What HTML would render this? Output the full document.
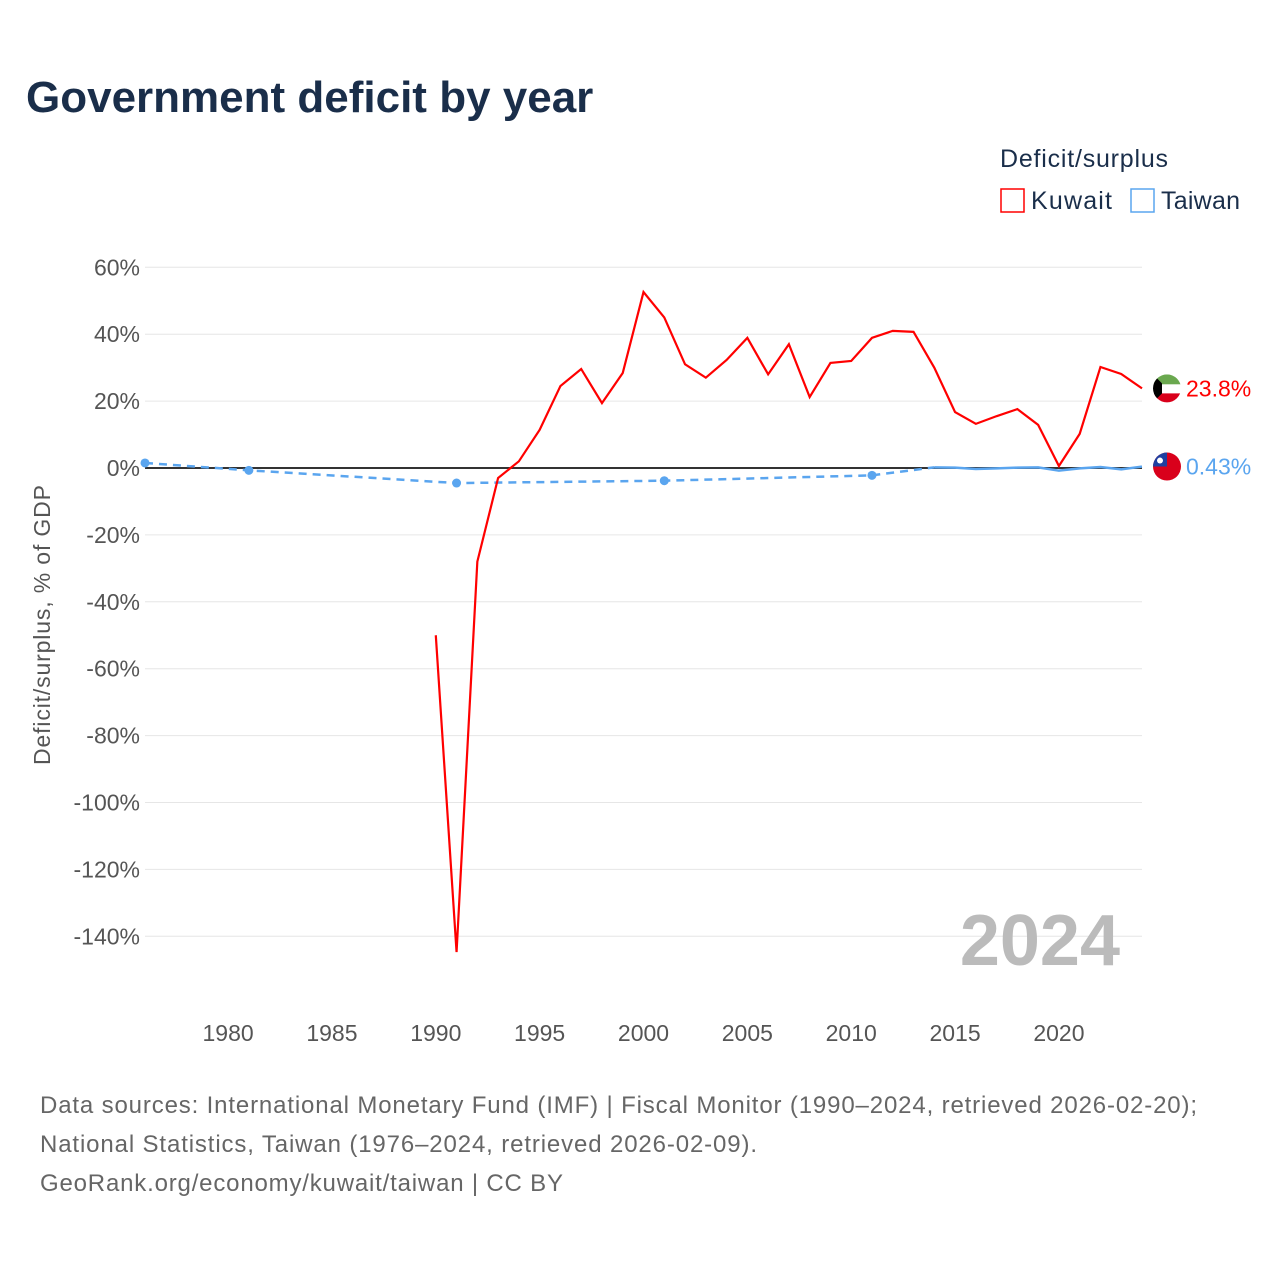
<!DOCTYPE html>
<html><head><meta charset="utf-8">
<style>
body{margin:0;background:#fff;font-family:"Liberation Sans",sans-serif;}
#wrap{position:relative;width:1280px;height:1280px;overflow:hidden;}
</style></head>
<body>
<div id="wrap">
<svg id="chart" width="1280" height="1280">
  <text x="26" y="112" font-size="44" font-weight="bold" fill="#1a2e4a">Government deficit by year</text>
  <text x="1000" y="167" font-size="25" fill="#1a2e4a" textLength="168">Deficit/surplus</text>
  <g>
    <rect x="1001" y="189" width="23" height="23" fill="none" stroke="#f00" stroke-width="1.5"/>
    <text x="1031" y="209" font-size="25" fill="#1a2e4a" textLength="81">Kuwait</text>
  </g>
  <g>
    <rect x="1131" y="189" width="23" height="23" fill="none" stroke="#5aa5ef" stroke-width="1.5"/>
    <text x="1161" y="209" font-size="25" fill="#1a2e4a" textLength="79">Taiwan</text>
  </g>
  <g id="grid"></g>
  <g id="yticks"></g>
  <g id="xticks"></g>
  <text transform="translate(50,625) rotate(-90)" text-anchor="middle" font-size="23" fill="#555" textLength="280">Deficit/surplus, % of GDP</text>
  <text x="1120" y="965" text-anchor="end" font-size="72" font-weight="bold" fill="#bbb">2024</text>
  <g id="series"></g>
  <text x="40" y="1113" font-size="24" fill="#666" textLength="1157">Data sources: International Monetary Fund (IMF) | Fiscal Monitor (1990–2024, retrieved 2026-02-20);</text>
  <text x="40" y="1152" font-size="24" fill="#666" textLength="717">National Statistics, Taiwan (1976–2024, retrieved 2026-02-09).</text>
  <text x="40" y="1191" font-size="24" fill="#666" textLength="523">GeoRank.org/economy/kuwait/taiwan | CC BY</text>
</svg>
</div>
<script>
const yTicks=[60,40,20,0,-20,-40,-60,-80,-100,-120,-140];
const xTicks=[1980,1985,1990,1995,2000,2005,2010,2015,2020];
const kuwaitYears=[1990,1991,1992,1993,1994,1995,1996,1997,1998,1999,2000,2001,2002,2003,2004,2005,2006,2007,2008,2009,2010,2011,2012,2013,2014,2015,2016,2017,2018,2019,2020,2021,2022,2023,2024];
const kuwaitValues=[-50,-144.7,-28,-3,2,11.4,24.5,29.6,19.4,28.4,52.6,45,31,27,32.3,38.9,28,37,21.2,31.4,32,38.9,41,40.7,30,16.7,13.2,15.5,17.6,12.9,0.6,10.2,30.2,28.1,23.8];
const taiwanSparseYears=[1976,1981,1991,2001,2011,2014];
const taiwanSparseValues=[1.5,-0.7,-4.5,-3.8,-2.2,0.2];
const taiwanYears=[2014,2015,2016,2017,2018,2019,2020,2021,2022,2023,2024];
const taiwanValues=[0.2,0.1,-0.3,-0.1,0.1,0.2,-0.8,-0.1,0.3,-0.4,0.43];
const NS="http://www.w3.org/2000/svg";
const X=yr=>145+(yr-1976)*(1142-145)/48;
const Y=v=>468-v*3.345;
function mk(tag,attrs,parent){const e=document.createElementNS(NS,tag);for(const k in attrs)e.setAttribute(k,attrs[k]);parent.appendChild(e);return e;}
const grid=document.getElementById('grid'),yt=document.getElementById('yticks'),xt=document.getElementById('xticks'),ser=document.getElementById('series');
yTicks.forEach(v=>{
  const l=mk('line',{x1:145,x2:1142,y1:Y(v),y2:Y(v),stroke:'#e6e6e6','stroke-width':1},grid);
  
  
  const t=mk('text',{x:140,y:Y(v)+8,'text-anchor':'end','font-size':23,fill:'#555'},yt);
  t.textContent=v+'%';
  
  
});
xTicks.forEach(yr=>{
  const t=mk('text',{x:X(yr),y:1041,'text-anchor':'middle','font-size':23,fill:'#555'},xt);
  t.textContent=yr;
  
  
});
const zero=mk('line',{x1:145,x2:1142,y1:Y(0),y2:Y(0),stroke:'#333','stroke-width':2},ser);


const pts=(ys,vs)=>ys.map((y,i)=>X(y)+','+Y(vs[i])).join(' ');
const td=mk('polyline',{points:pts(taiwanSparseYears,taiwanSparseValues),fill:'none',stroke:'#5aa5ef','stroke-width':2.5,'stroke-dasharray':'8,6'},ser);


taiwanSparseYears.slice(0,5).forEach((y,i)=>{
  const c=mk('circle',{cx:X(y),cy:Y(taiwanSparseValues[i]),r:4.5,fill:'#5aa5ef'},ser);
  
  
});
const ts=mk('polyline',{points:pts(taiwanYears,taiwanValues),fill:'none',stroke:'#5aa5ef','stroke-width':2.5},ser);


const kl=mk('polyline',{points:pts(kuwaitYears,kuwaitValues),fill:'none',stroke:'#f00','stroke-width':2.2},ser);


const kv=kuwaitValues[kuwaitValues.length-1],tv=taiwanValues[taiwanValues.length-1];
const ky=Y(kv),ty=Y(tv);
const kg=mk('g',{},ser);


const cp=mk('clipPath',{id:'kc'},kg);
mk('circle',{cx:1167,cy:ky,r:14},cp);
const kgi=mk('g',{'clip-path':'url(#kc)'},kg);
mk('rect',{x:1153,y:ky-14,width:28,height:10,fill:'#6aa84f'},kgi);
mk('rect',{x:1153,y:ky-4,width:28,height:9,fill:'#fff'},kgi);
mk('rect',{x:1153,y:ky+5,width:28,height:10,fill:'#d9001b'},kgi);
mk('polygon',{points:`1153,${ky-14} 1162,${ky-5} 1162,${ky+5} 1153,${ky+14}`,fill:'#000'},kgi);
const kt=mk('text',{x:1186,y:ky+8,'font-size':23,fill:'#f00'},ser);
kt.textContent=kv.toFixed(1)+'%';


const tg=mk('g',{},ser);


mk('circle',{cx:1167,cy:ty,r:14,fill:'#d9001b'},tg);
mk('path',{d:`M1153,${ty} A14,14 0 0 1 1167,${ty-14} L1167,${ty} Z`,fill:'#1f3fa0'},tg);
mk('circle',{cx:1160,cy:ty-6,r:3,fill:'#fff'},tg);
const tt=mk('text',{x:1186,y:ty+8,'font-size':23,fill:'#5aa5ef'},ser);
tt.textContent=tv.toFixed(2)+'%';


</script>
</body></html>
